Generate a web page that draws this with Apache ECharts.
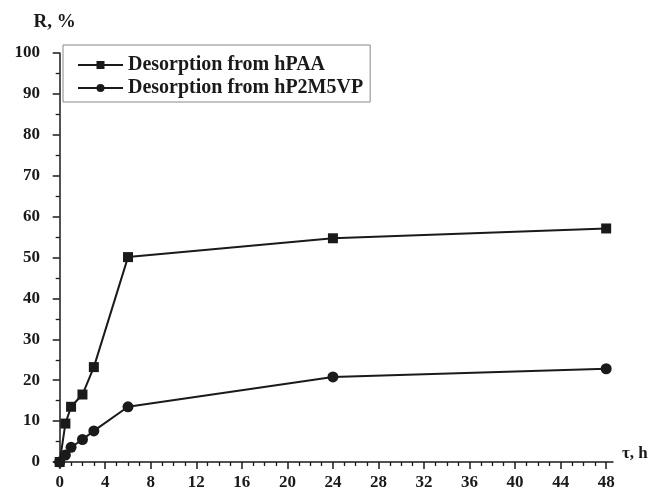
<!DOCTYPE html>
<html>
<head>
<meta charset="utf-8">
<script src="https://cdn.jsdelivr.net/npm/echarts@6/dist/echarts.min.js"></script>
<style>
html,body{margin:0;padding:0;background:#fff;}
#chart{width:653px;height:492px;}
</style>
</head>
<body>
<div id="chart"></div>
<script>
var timeHours = [0, 0.5, 1, 2, 3, 6, 24, 48];
var hPAA = [0, 9.4, 13.5, 16.5, 23.2, 50.1, 54.7, 57.1];
var hP2M5VP = [0, 1.7, 3.6, 5.5, 7.6, 13.5, 20.8, 22.8];
var seriesNames = ['Desorption from hPAA', 'Desorption from hP2M5VP'];
var xMajorTicks = [0, 4, 8, 12, 16, 20, 24, 28, 32, 36, 40, 44, 48];
var xMinorTicks = [];
for (var i = 1; i < 48; i++) { if (i % 4 !== 0) xMinorTicks.push(i); }

function pairs(ys) { return timeHours.map(function (t, i) { return [t, ys[i]]; }); }

var font = 'Liberation Serif';
var col = '#1a1a1a';
var chart = echarts.init(document.getElementById('chart'), null, {renderer: 'canvas'});
chart.setOption({
  animation: false,
  backgroundColor: '#fff',
  grid: {left: 54, right: 40, top: 53, bottom: 30, containLabel: false},
  legend: {
    orient: 'vertical', left: 63, top: 45,
    padding: [10, 7, 4, 14],
    itemGap: 3, itemWidth: 45, itemHeight: 10,
    borderColor: '#888', borderWidth: 1,
    textStyle: {fontFamily: font, fontWeight: 'bold', fontSize: 20, color: col},
    data: seriesNames
  },
  xAxis: [{
    type: 'value', min: -0.5, max: 48.6,
    name: 'τ, h', nameLocation: 'end', nameGap: 9,
    nameTextStyle: {fontFamily: font, fontWeight: 'bold', fontSize: 17, color: col, verticalAlign: 'bottom'},
    axisLine: {show: true, lineStyle: {color: col, width: 1.5}},
    axisTick: {show: true, length: 7, customValues: xMajorTicks, lineStyle: {color: col, width: 1.5}},
    axisLabel: {customValues: xMajorTicks, fontFamily: font, fontWeight: 'bold', fontSize: 17, color: col, margin: 12},
    splitLine: {show: false}
  }, {
    type: 'value', min: -0.5, max: 48.6, position: 'bottom',
    axisLine: {show: false},
    axisTick: {show: true, length: 4, customValues: xMinorTicks, lineStyle: {color: col, width: 1.3}},
    axisLabel: {show: false},
    splitLine: {show: false}
  }],
  yAxis: {
    type: 'value', min: 0, max: 100, interval: 10,
    name: 'R, %', nameLocation: 'end', nameGap: 21,
    nameTextStyle: {fontFamily: font, fontWeight: 'bold', fontSize: 19, color: col, padding: [0, 10, 0, 0]},
    axisLine: {show: true, lineStyle: {color: col, width: 1.5}},
    axisTick: {show: true, length: 7, lineStyle: {color: col, width: 1.5}},
    minorTick: {show: true, splitNumber: 2, length: 4, lineStyle: {color: col, width: 1.3}},
    axisLabel: {fontFamily: font, fontWeight: 'bold', fontSize: 17, color: col, margin: 14},
    splitLine: {show: false}
  },
  series: [{
    name: seriesNames[0], type: 'line', data: pairs(hPAA),
    symbol: 'rect', symbolSize: 10,
    lineStyle: {color: col, width: 2}, itemStyle: {color: col}
  }, {
    name: seriesNames[1], type: 'line', data: pairs(hP2M5VP),
    symbol: 'circle', symbolSize: 11,
    lineStyle: {color: col, width: 2}, itemStyle: {color: col}
  }]
});
</script>
</body>
</html>
